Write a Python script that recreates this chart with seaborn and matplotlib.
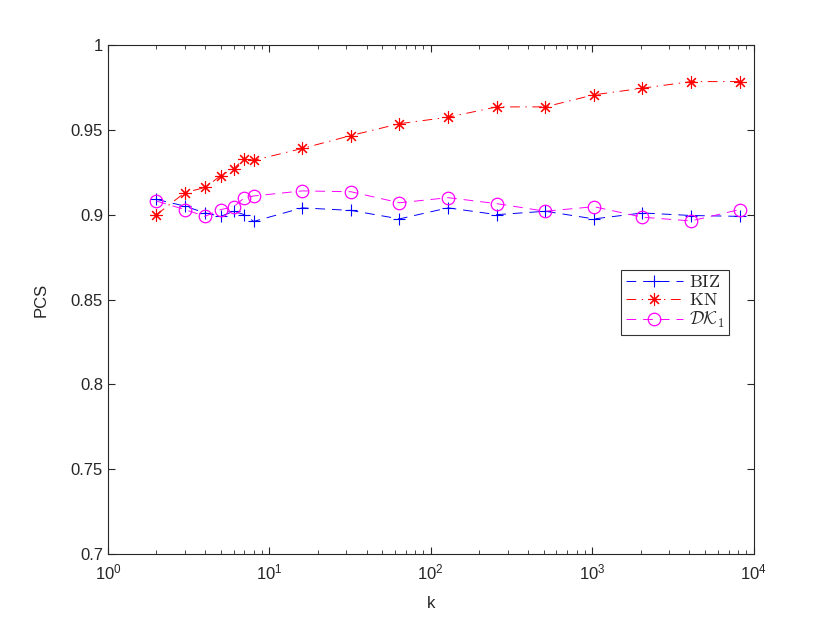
import numpy as np
import pandas as pd
import matplotlib
matplotlib.use("Agg")
import matplotlib.pyplot as plt
import seaborn as sns

# data
k = [2, 3, 4, 5, 6, 7, 8, 16, 32, 64, 128, 256, 512, 1024, 2048, 4096, 8192]
biz = [0.909, 0.905, 0.901, 0.899, 0.902, 0.900, 0.896, 0.904, 0.9025, 0.8975,
       0.904, 0.900, 0.902, 0.8975, 0.901, 0.8995, 0.899]
kn = [0.900, 0.913, 0.916, 0.923, 0.927, 0.933, 0.932, 0.939, 0.9466, 0.9536,
      0.9574, 0.9635, 0.9635, 0.9706, 0.9745, 0.9784, 0.9784]
dk1 = [0.908, 0.903, 0.899, 0.903, 0.9045, 0.910, 0.911, 0.914, 0.9135, 0.907,
       0.910, 0.9065, 0.902, 0.9047, 0.8985, 0.8963, 0.903]

sns.set_style("ticks")
plt.rcParams["font.family"] = ["Liberation Sans", "DejaVu Sans"]
plt.rcParams["mathtext.fontset"] = "cm"
plt.rcParams["xtick.direction"] = "in"
plt.rcParams["ytick.direction"] = "in"
plt.rcParams["lines.scale_dashes"] = False

fig = plt.figure(figsize=(8.3, 6.24), dpi=100)
ax = fig.add_axes([0.13, 0.112, 0.778, 0.816])

df = pd.DataFrame({"k": k, "BIZ": biz, "KN": kn, "DK1": dk1})

sns.lineplot(data=df, x="k", y="BIZ", ax=ax, color="blue", linestyle=(0, (7, 5)),
             lw=0.7, marker="+", markersize=9, markeredgewidth=0.8,
             markeredgecolor="blue",
             label=r"$\mathrm{BIZ}$", sort=False, errorbar=None)
sns.lineplot(data=df, x="k", y="KN", ax=ax, color="red", linestyle=(0, (7, 4, 1, 4)),
             lw=0.7, marker=(8, 2, 0), markersize=9, markeredgewidth=0.8,
             markeredgecolor="red",
             label=r"$\mathrm{KN}$", sort=False, errorbar=None)
sns.lineplot(data=df, x="k", y="DK1", ax=ax, color="magenta", linestyle=(0, (7, 5)),
             lw=0.7, marker="o", markersize=9, markerfacecolor="none",
             markeredgecolor="magenta", markeredgewidth=0.9,
             label=r"$\mathcal{DK}_1$", sort=False, errorbar=None)

ax.set_xscale("log")
ax.set_xlim(1, 1e4)
ax.set_ylim(0.7, 1.0)
ax.set_yticks([0.7, 0.75, 0.8, 0.85, 0.9, 0.95, 1.0])
ax.set_yticklabels(["0.7", "0.75", "0.8", "0.85", "0.9", "0.95", "1"])
ax.set_xlabel("k", fontsize=12, labelpad=10)
ax.set_ylabel("PCS", fontsize=12, labelpad=16)
ax.tick_params(which="both", top=True, right=True, labelsize=12)
ax.tick_params(axis="x", which="major", pad=6)
ax.tick_params(which="major", length=5)
ax.tick_params(which="minor", length=3)
for s in ax.spines.values():
    s.set_linewidth(0.8)

leg = ax.legend(loc="center right", bbox_to_anchor=(0.962, 0.495), fancybox=False,
                frameon=True, edgecolor="black", fontsize=13, handlelength=3.2,
                borderpad=0.25, labelspacing=0.05, handletextpad=0.3, borderaxespad=0)
leg.get_frame().set_linewidth(0.8)

fig.savefig("out.png", dpi=100)
